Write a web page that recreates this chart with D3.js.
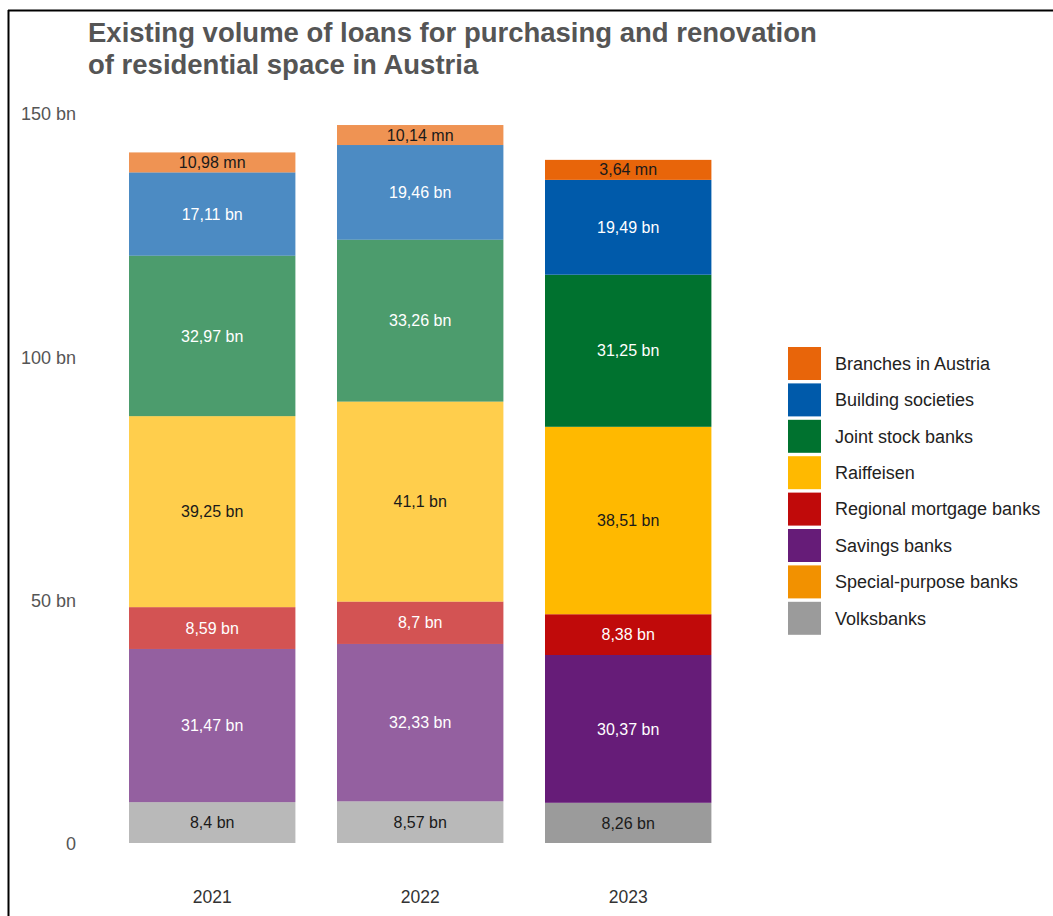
<!DOCTYPE html>
<html>
<head>
<meta charset="utf-8">
<script src="https://cdn.jsdelivr.net/npm/d3@7"></script>
<style>
  html, body { margin: 0; padding: 0; background: #fff; }
  svg { display: block; font-family: "Liberation Sans", Arial, Helvetica, sans-serif; }
</style>
</head>
<body>
<svg id="chart" width="1053" height="916"></svg>
<script>
// Years on the x axis
const years = ["2021", "2022", "2023"];

// Loan volumes per banking sector, in billions of euros
const volksbanks = [8.4, 8.57, 8.26];
const savingsBanks = [31.47, 32.33, 30.37];
const regionalMortgage = [8.59, 8.7, 8.38];
const raiffeisen = [39.25, 41.1, 38.51];
const jointStock = [32.97, 33.26, 31.25];
const buildingSocieties = [17.11, 19.46, 19.49];
// Branches in Austria, in millions of euros
const branchesMn = [10.98, 10.14, 3.64];

// Legend entries
const legendLabels = [
  "Branches in Austria", "Building societies", "Joint stock banks", "Raiffeisen",
  "Regional mortgage banks", "Savings banks", "Special-purpose banks", "Volksbanks"
];

// Y axis ticks
const yTicks = [0, 50, 100, 150];
const yTickLabels = ["0", "50 bn", "100 bn", "150 bn"];

const colors = {
  "Branches in Austria": "#e8650a",
  "Building societies": "#005aaa",
  "Joint stock banks": "#00722f",
  "Raiffeisen": "#ffb900",
  "Regional mortgage banks": "#c00a0a",
  "Savings banks": "#661c78",
  "Special-purpose banks": "#f29100",
  "Volksbanks": "#9b9b9b"
};
const darkText = new Set(["Volksbanks", "Raiffeisen", "Branches in Austria", "Special-purpose banks"]);

// Stack order, bottom to top; value in billions, label unit
const series = [
  { name: "Volksbanks", values: volksbanks, unit: "bn", scale: 1 },
  { name: "Savings banks", values: savingsBanks, unit: "bn", scale: 1 },
  { name: "Regional mortgage banks", values: regionalMortgage, unit: "bn", scale: 1 },
  { name: "Raiffeisen", values: raiffeisen, unit: "bn", scale: 1 },
  { name: "Joint stock banks", values: jointStock, unit: "bn", scale: 1 },
  { name: "Building societies", values: buildingSocieties, unit: "bn", scale: 1 },
  { name: "Branches in Austria", values: branchesMn, unit: "mn", scale: 0.001 }
];

const svg = d3.select("#chart");
const locale = d3.formatLocale({ decimal: ",", thousands: ".", grouping: [3], currency: ["", " €"] });
const fmt = locale.format(".2~f");

// Frame lines
svg.append("line").attr("x1", 8.5).attr("x2", 8.5).attr("y1", 10).attr("y2", 916)
  .attr("stroke", "#000").attr("stroke-width", 2);
svg.append("line").attr("x1", 8).attr("x2", 1053).attr("y1", 10.5).attr("y2", 10.5)
  .attr("stroke", "#000").attr("stroke-width", 2);

// Title
const title = svg.append("text").attr("x", 88).attr("fill", "#555")
  .attr("font-size", 27.5).attr("font-weight", "bold");
title.append("tspan").attr("x", 88).attr("y", 42).text("Existing volume of loans for purchasing and renovation");
title.append("tspan").attr("x", 88).attr("y", 74).text("of residential space in Austria");

const x = d3.scaleBand().domain(years).range([108.2, 732.2]).paddingInner(0.2).paddingOuter(0.1);
const y = d3.scaleLinear().domain([0, 150]).range([843, 113]);

// Y axis: labels only
const yAxis = svg.append("g").attr("transform", "translate(76,1)")
  .call(d3.axisLeft(y).tickValues(yTicks).tickSize(0).tickPadding(0)
    .tickFormat((d, i) => yTickLabels[i]));
yAxis.select(".domain").remove();
yAxis.selectAll("text").attr("font-size", 18).attr("fill", "#555")
  .attr("font-family", "'Liberation Sans', Arial, sans-serif");

// X axis: year labels
const xAxis = svg.append("g").attr("transform", "translate(0,891)")
  .call(d3.axisBottom(x).tickSize(0).tickPadding(0));
xAxis.select(".domain").remove();
xAxis.selectAll("text").attr("font-size", 17.5).attr("fill", "#333")
  .attr("font-family", "'Liberation Sans', Arial, sans-serif");

// Smallest drawn segment height, so its label stays readable
const minSegPx = 20;

years.forEach((yr, i) => {
  const faded = i < years.length - 1;
  const g = svg.append("g");
  let cum = 0;
  let pxBottom = y(0);
  series.forEach(s => {
    const vBn = s.values[i] * s.scale;
    const h = Math.max(y(cum) - y(cum + vBn), minSegPx);
    const top = pxBottom - h;
    g.append("rect")
      .attr("x", x(yr)).attr("width", x.bandwidth())
      .attr("y", top).attr("height", h)
      .attr("fill", colors[s.name])
      .attr("fill-opacity", faded ? 0.7 : 1);
    g.append("text")
      .attr("x", x(yr) + x.bandwidth() / 2)
      .attr("y", top + h / 2)
      .attr("dy", "0.35em")
      .attr("text-anchor", "middle")
      .attr("font-size", 16)
      .attr("fill", darkText.has(s.name) ? "#1a1a1a" : "#fff")
      .text(fmt(s.values[i]) + " " + s.unit);
    cum += vBn;
    pxBottom = top;
  });
});

// Legend
const legend = svg.append("g").attr("transform", "translate(788,347)");
legendLabels.forEach((name, i) => {
  const row = legend.append("g").attr("transform", `translate(0,${i * 36.4})`);
  row.append("rect").attr("width", 33).attr("height", 33).attr("fill", colors[name]);
  row.append("text").attr("x", 47).attr("y", 16.5).attr("dy", "0.35em")
    .attr("font-size", 18).attr("fill", "#222").text(name);
});
</script>
</body>
</html>
